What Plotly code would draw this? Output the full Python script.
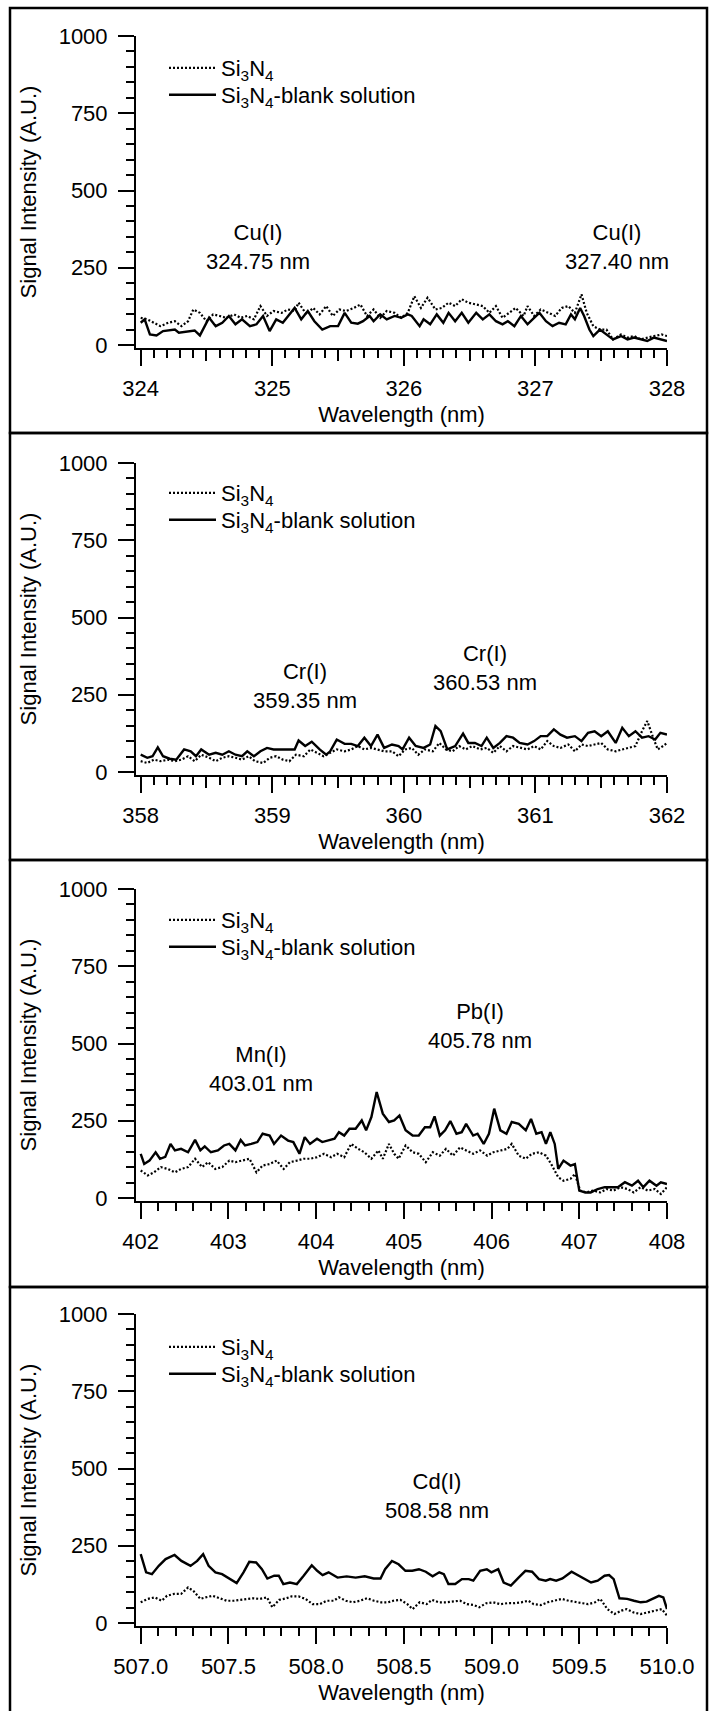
import plotly.graph_objects as go

W, H = 709, 1711

# ---------------- data ----------------
# Panel 1: Cu region
p1_dot_wl = [324.00, 324.05, 324.10, 324.15, 324.21, 324.26, 324.31, 324.36, 324.40, 324.45,
             324.50, 324.55, 324.60, 324.65, 324.71, 324.76, 324.81, 324.86, 324.91, 324.96,
             325.01, 325.07, 325.12, 325.17, 325.20, 325.26, 325.31, 325.36, 325.41, 325.46,
             325.51, 325.56, 325.62, 325.67, 325.72, 325.77, 325.82, 325.87, 325.93, 325.98,
             326.03, 326.08, 326.13, 326.18, 326.24, 326.29, 326.34, 326.39, 326.44, 326.49,
             326.55, 326.60, 326.65, 326.70, 326.75, 326.80, 326.85, 326.91, 326.94, 326.99,
             327.04, 327.10, 327.15, 327.20, 327.25, 327.30, 327.35, 327.39, 327.44, 327.49,
             327.54, 327.59, 327.65, 327.70, 327.75, 327.80, 327.85, 327.90, 327.96, 328.00]
p1_dot_int = [88, 83, 72, 61, 72, 77, 61, 77, 115, 104,
              77, 99, 94, 88, 99, 88, 94, 83, 126, 94,
              110, 104, 115, 110, 137, 99, 120, 99, 126, 94,
              115, 110, 120, 131, 94, 115, 88, 110, 104, 88,
              104, 158, 120, 153, 115, 120, 137, 126, 148, 137,
              131, 126, 104, 126, 88, 104, 120, 94, 126, 94,
              115, 104, 94, 120, 126, 104, 164, 104, 61, 50,
              50, 18, 34, 24, 29, 18, 24, 29, 34, 29]
p1_sol_wl = [324.00, 324.03, 324.07, 324.12, 324.17, 324.26, 324.29, 324.38, 324.41, 324.45,
             324.52, 324.57, 324.62, 324.67, 324.72, 324.77, 324.83, 324.88, 324.93, 324.98,
             325.03, 325.08, 325.13, 325.17, 325.22, 325.27, 325.32, 325.38, 325.44, 325.50,
             325.55, 325.60, 325.65, 325.69, 325.74, 325.77, 325.82, 325.87, 325.93, 325.98,
             326.03, 326.06, 326.12, 326.15, 326.20, 326.25, 326.30, 326.34, 326.39, 326.44,
             326.49, 326.55, 326.60, 326.65, 326.70, 326.75, 326.79, 326.84, 326.89, 326.94,
             326.99, 327.03, 327.08, 327.13, 327.18, 327.23, 327.27, 327.30, 327.34, 327.37,
             327.41, 327.44, 327.49, 327.54, 327.59, 327.65, 327.70, 327.75, 327.80, 327.85,
             327.90, 327.96, 328.00]
p1_sol_int = [72, 83, 34, 31, 45, 50, 40, 45, 47, 31,
              88, 61, 72, 94, 67, 83, 61, 67, 94, 45,
              83, 72, 99, 120, 83, 110, 77, 50, 61, 61,
              104, 72, 69, 77, 94, 77, 99, 83, 94, 88,
              99, 94, 61, 83, 67, 99, 72, 104, 77, 104,
              72, 104, 83, 99, 77, 67, 77, 61, 94, 67,
              88, 104, 77, 61, 72, 67, 99, 83, 120, 94,
              50, 29, 50, 34, 18, 29, 18, 24, 18, 13,
              24, 18, 13]

# Panel 2: Cr region
p2_dot_wl = [358.00, 358.05, 358.10, 358.15, 358.21, 358.26, 358.31, 358.36, 358.41, 358.46,
             358.52, 358.57, 358.62, 358.67, 358.72, 358.77, 358.82, 358.87, 358.93, 358.98,
             359.03, 359.08, 359.13, 359.18, 359.24, 359.29, 359.34, 359.39, 359.44, 359.49,
             359.55, 359.60, 359.65, 359.70, 359.75, 359.80, 359.85, 359.91, 359.96, 360.01,
             360.06, 360.11, 360.16, 360.22, 360.27, 360.32, 360.37, 360.42, 360.47, 360.52,
             360.58, 360.63, 360.68, 360.73, 360.78, 360.83, 360.89, 360.94, 360.99, 361.04,
             361.09, 361.14, 361.19, 361.25, 361.30, 361.35, 361.40, 361.45, 361.50, 361.55,
             361.61, 361.66, 361.71, 361.76, 361.81, 361.85, 361.90, 361.93, 361.97, 362.00]
p2_dot_int = [35, 29, 40, 35, 40, 35, 40, 51, 35, 56,
              46, 35, 46, 51, 46, 40, 51, 35, 29, 46,
              51, 40, 35, 56, 51, 73, 62, 51, 62, 73,
              67, 73, 84, 73, 78, 73, 67, 67, 51, 73,
              78, 56, 73, 67, 94, 73, 67, 84, 73, 84,
              73, 78, 62, 84, 67, 84, 78, 73, 84, 73,
              100, 84, 78, 89, 67, 89, 84, 89, 94, 73,
              67, 73, 78, 84, 132, 165, 105, 73, 84, 94]
p2_sol_wl = [358.00, 358.05, 358.09, 358.13, 358.17, 358.22, 358.27, 358.33, 358.38, 358.42,
             358.46, 358.52, 358.57, 358.62, 358.67, 358.72, 358.77, 358.81, 358.86, 358.91,
             358.96, 359.01, 359.06, 359.12, 359.17, 359.20, 359.25, 359.30, 359.36, 359.41,
             359.44, 359.49, 359.55, 359.60, 359.65, 359.70, 359.75, 359.80, 359.85, 359.91,
             359.96, 359.99, 360.04, 360.09, 360.15, 360.20, 360.24, 360.28, 360.33, 360.39,
             360.45, 360.49, 360.54, 360.59, 360.63, 360.68, 360.73, 360.78, 360.83, 360.88,
             360.94, 360.99, 361.04, 361.09, 361.14, 361.19, 361.24, 361.30, 361.35, 361.40,
             361.45, 361.50, 361.55, 361.61, 361.66, 361.71, 361.76, 361.81, 361.86, 361.91,
             361.95, 362.00]
p2_sol_int = [56, 46, 51, 80, 51, 43, 40, 73, 67, 51,
              73, 56, 62, 56, 67, 56, 51, 67, 51, 67,
              78, 73, 73, 73, 73, 102, 84, 98, 73, 56,
              67, 105, 91, 91, 84, 111, 84, 121, 78, 89,
              84, 73, 111, 84, 78, 89, 149, 132, 73, 84,
              124, 94, 94, 84, 111, 78, 94, 116, 111, 94,
              89, 100, 116, 116, 138, 121, 111, 116, 100, 127,
              132, 116, 132, 94, 143, 116, 132, 111, 116, 105,
              127, 121]

# Panel 3: Mn / Pb region
p3_dot_wl = [402.00, 402.08, 402.15, 402.23, 402.31, 402.39, 402.46, 402.54, 402.62, 402.70,
             402.77, 402.85, 402.93, 403.01, 403.08, 403.16, 403.24, 403.32, 403.39, 403.47,
             403.55, 403.63, 403.70, 403.78, 403.86, 403.93, 404.01, 404.09, 404.17, 404.24,
             404.32, 404.40, 404.48, 404.55, 404.63, 404.71, 404.76, 404.83, 404.89, 404.94,
             405.02, 405.10, 405.17, 405.25, 405.33, 405.41, 405.48, 405.56, 405.64, 405.71,
             405.79, 405.87, 405.95, 406.02, 406.10, 406.18, 406.23, 406.31, 406.39, 406.46,
             406.54, 406.62, 406.68, 406.76, 406.82, 406.90, 406.95, 407.01, 407.08, 407.16,
             407.24, 407.31, 407.39, 407.47, 407.55, 407.62, 407.70, 407.78, 407.86, 407.93,
             408.00]
p3_dot_int = [89, 73, 83, 100, 94, 83, 94, 100, 127, 100,
              116, 94, 100, 121, 116, 121, 127, 83, 105, 110,
              121, 94, 116, 121, 127, 127, 132, 143, 132, 143,
              132, 175, 159, 148, 127, 154, 127, 175, 143, 127,
              170, 148, 143, 116, 148, 137, 159, 137, 164, 154,
              143, 154, 137, 148, 154, 159, 175, 137, 127, 143,
              148, 137, 110, 67, 56, 62, 78, 24, 18, 24,
              18, 29, 24, 35, 29, 18, 35, 24, 29, 13,
              35]
p3_sol_wl = [402.00, 402.04, 402.10, 402.17, 402.22, 402.28, 402.34, 402.39, 402.46, 402.54,
             402.62, 402.68, 402.73, 402.80, 402.88, 402.95, 403.01, 403.08, 403.14, 403.19,
             403.26, 403.33, 403.39, 403.47, 403.52, 403.60, 403.68, 403.74, 403.81, 403.87,
             403.93, 404.01, 404.07, 404.14, 404.21, 404.26, 404.32, 404.38, 404.45, 404.52,
             404.57, 404.63, 404.69, 404.76, 404.83, 404.89, 404.95, 405.02, 405.10, 405.17,
             405.24, 405.30, 405.35, 405.41, 405.47, 405.53, 405.60, 405.66, 405.71, 405.79,
             405.84, 405.91, 405.97, 406.03, 406.10, 406.17, 406.23, 406.31, 406.39, 406.45,
             406.51, 406.57, 406.62, 406.67, 406.72, 406.76, 406.82, 406.90, 406.95, 407.00,
             407.07, 407.13, 407.21, 407.29, 407.37, 407.44, 407.52, 407.60, 407.67, 407.73,
             407.80, 407.88, 407.93, 408.00]
p3_sol_int = [143, 110, 121, 148, 127, 133, 175, 154, 159, 148,
              188, 154, 167, 148, 154, 170, 175, 154, 188, 170,
              175, 181, 208, 202, 175, 202, 186, 181, 143, 197,
              175, 192, 181, 186, 192, 213, 202, 224, 224, 251,
              219, 262, 343, 273, 246, 251, 267, 219, 202, 202,
              229, 229, 264, 202, 219, 249, 208, 213, 240, 202,
              208, 175, 208, 289, 219, 208, 246, 240, 219, 256,
              208, 213, 175, 213, 175, 94, 121, 105, 110, 24,
              18, 18, 29, 35, 35, 35, 51, 40, 56, 35,
              56, 40, 51, 45]

# Panel 4: Cd region
p4_dot_wl = [507.00, 507.04, 507.08, 507.12, 507.15, 507.19, 507.23, 507.27, 507.30, 507.34,
             507.37, 507.41, 507.45, 507.49, 507.53, 507.57, 507.61, 507.64, 507.68, 507.72,
             507.75, 507.79, 507.83, 507.86, 507.90, 507.94, 507.98, 508.02, 508.06, 508.10,
             508.13, 508.17, 508.21, 508.25, 508.29, 508.33, 508.37, 508.41, 508.44, 508.48,
             508.52, 508.55, 508.59, 508.63, 508.66, 508.70, 508.74, 508.78, 508.82, 508.86,
             508.90, 508.93, 508.97, 509.01, 509.05, 509.09, 509.13, 509.17, 509.21, 509.24,
             509.28, 509.32, 509.36, 509.40, 509.44, 509.48, 509.52, 509.55, 509.59, 509.62,
             509.66, 509.70, 509.74, 509.77, 509.81, 509.85, 509.89, 509.93, 509.97, 510.00]
p4_dot_int = [67, 78, 83, 72, 88, 94, 94, 115, 104, 78,
              83, 88, 80, 72, 72, 75, 80, 80, 78, 83,
              51, 75, 80, 86, 86, 78, 61, 61, 72, 72,
              83, 72, 67, 72, 80, 72, 67, 67, 72, 75,
              61, 45, 67, 61, 75, 67, 67, 69, 72, 61,
              58, 51, 64, 67, 61, 64, 64, 67, 72, 61,
              58, 67, 72, 78, 72, 69, 64, 61, 67, 78,
              45, 29, 40, 45, 34, 29, 34, 40, 45, 24]
p4_sol_wl = [507.000, 507.031, 507.064, 507.103, 507.142, 507.193, 507.232, 507.284, 507.322, 507.356,
             507.387, 507.426, 507.464, 507.503, 507.547, 507.586, 507.619, 507.658, 507.691, 507.722,
             507.761, 507.787, 507.813, 507.851, 507.890, 507.929, 507.975, 508.006, 508.037, 508.071,
             508.122, 508.174, 508.225, 508.277, 508.328, 508.367, 508.393, 508.432, 508.470, 508.509,
             508.548, 508.586, 508.625, 508.664, 508.702, 508.728, 508.754, 508.793, 508.831, 508.870,
             508.896, 508.935, 508.973, 508.999, 509.038, 509.069, 509.110, 509.154, 509.193, 509.231,
             509.270, 509.309, 509.334, 509.368, 509.404, 509.456, 509.497, 509.528, 509.567, 509.605,
             509.644, 509.670, 509.696, 509.729, 509.773, 509.812, 509.850, 509.884, 509.920, 509.954,
             509.979, 510.000]
p4_sol_int = [223, 164, 158, 185, 207, 220, 201, 185, 201, 223,
              185, 164, 158, 144, 129, 164, 198, 196, 174, 144,
              153, 153, 126, 131, 126, 153, 187, 169, 155, 164,
              147, 151, 147, 151, 144, 144, 174, 201, 190, 169,
              169, 174, 166, 151, 164, 158, 126, 126, 142, 142,
              137, 169, 174, 164, 174, 131, 121, 147, 169, 166,
              142, 137, 142, 137, 144, 166, 153, 142, 131, 137,
              153, 155, 142, 80, 78, 72, 67, 69, 80, 88,
              83, 45]

# axis ranges / ticks
x_ranges = [(324, 328), (358, 362), (402, 408), (507, 510)]
x_major = [1, 1, 1, 0.5]
x_minor = [0.1, 0.1, 0.2, 0.1]
x_formats = ["d", "d", "d", ".1f"]
half_ticks = [[324.5, 325.5, 326.5, 327.5], [358.5, 359.5, 360.5, 361.5], None, None]

annotations_text = [
    [("Cu(I)<br>324.75 nm", 324.89, 318), ("Cu(I)<br>327.40 nm", 327.62, 318)],
    [("Cr(I)<br>359.35 nm", 359.25, 279), ("Cr(I)<br>360.53 nm", 360.62, 338)],
    [("Mn(I)<br>403.01 nm", 403.37, 419), ("Pb(I)<br>405.78 nm", 405.87, 558)],
    [("Cd(I)<br>508.58 nm", 508.69, 410)],
]

series = [
    (p1_dot_wl, p1_dot_int, p1_sol_wl, p1_sol_int),
    (p2_dot_wl, p2_dot_int, p2_sol_wl, p2_sol_int),
    (p3_dot_wl, p3_dot_int, p3_sol_wl, p3_sol_int),
    (p4_dot_wl, p4_dot_int, p4_sol_wl, p4_sol_int),
]
for s in series:
    assert len(s[0]) == len(s[1]) and len(s[2]) == len(s[3])

NAME_DOT = "Si<sub>3</sub>N<sub>4</sub>"
NAME_SOL = "Si<sub>3</sub>N<sub>4</sub>-blank solution"

# ---------------- layout geometry (pixels) ----------------
FONT = "Liberation Sans, Arial, sans-serif"
FS = 22
frame_tops = [8, 433, 860, 1287]
y1000_px = [36, 463, 889, 1314]
PX_PER_UNIT = 0.309            # pixels per intensity unit
Y_LOW = -10
X_LEFT, X_FIRST, X_RIGHT = 136, 140.7, 667
LEG_X = 164
LEG_ROW_OFFSETS = [39, 66]     # legend box tops below each frame top

def px(y):
    return 1 - y / H

fig = go.Figure()
layout = dict(
    width=W, height=H, margin=dict(l=0, r=0, t=0, b=0, pad=0, autoexpand=False),
    paper_bgcolor="white", plot_bgcolor="white",
    font=dict(family=FONT, size=FS, color="black"),
    showlegend=True,
)
shapes = []
annots = []

def legend_box(top_px):
    return dict(
        x=LEG_X / W, y=px(top_px), xanchor="left", yanchor="top",
        bgcolor="rgba(0,0,0,0)", borderwidth=0, font=dict(family=FONT, size=FS),
        tracegroupgap=0, itemwidth=47, traceorder="normal",
    )

for i in range(4):
    n = i + 1
    xa = "xaxis" if n == 1 else f"xaxis{n}"
    ya = "yaxis" if n == 1 else f"yaxis{n}"
    xr = "x" if n == 1 else f"x{n}"
    yr = "y" if n == 1 else f"y{n}"
    lg_a = "legend" if n == 1 else f"legend{n}"
    lg_b = f"legend{n + 4}"
    lo, hi = x_ranges[i]
    ppn = (X_RIGHT - X_FIRST) / (hi - lo)
    x_lo = lo - (X_FIRST - X_LEFT) / ppn
    top = y1000_px[i]
    bottom = top + (1000 - Y_LOW) * PX_PER_UNIT

    dwl, dint, swl, sint = series[i]
    fig.add_trace(go.Scatter(x=dwl, y=dint, mode="lines", name=NAME_DOT,
                             line=dict(color="black", width=2.2, dash="2px,2px"),
                             xaxis=xr, yaxis=yr, legend=lg_a, showlegend=True))
    fig.add_trace(go.Scatter(x=swl, y=sint, mode="lines", name=NAME_SOL,
                             line=dict(color="black", width=2.4),
                             xaxis=xr, yaxis=yr, legend=lg_b, showlegend=True))

    layout[xa] = dict(
        domain=[X_LEFT / W, X_RIGHT / W], range=[x_lo, hi], anchor=yr, automargin=False,
        showline=True, linecolor="black", linewidth=2, showgrid=False, zeroline=False,
        ticks="outside", ticklen=16, tickwidth=2, tickcolor="black",
        tick0=lo, dtick=x_major[i], tickformat=x_formats[i],
        tickfont=dict(family=FONT, size=FS), ticklabelstandoff=4,
        minor=dict(ticks="outside", ticklen=8, tickwidth=2, tickcolor="black",
                   dtick=x_minor[i], tick0=lo, showgrid=False),
        title=dict(text="Wavelength (nm)", font=dict(family=FONT, size=FS), standoff=6),
        fixedrange=True,
    )
    layout[ya] = dict(
        domain=[px(bottom), px(top)], range=[Y_LOW, 1000], anchor=xr, automargin=False,
        showline=True, linecolor="black", linewidth=2, showgrid=False, zeroline=False,
        ticks="outside", ticklen=16, tickwidth=2, tickcolor="black",
        tick0=0, dtick=250, tickfont=dict(family=FONT, size=FS), ticklabelstandoff=6,
        minor=dict(ticks="outside", ticklen=8, tickwidth=2, tickcolor="black",
                   dtick=50, tick0=0, showgrid=False),
        title=dict(text="Signal Intensity (A.U.)", font=dict(family=FONT, size=FS), standoff=16),
        fixedrange=True,
    )
    if half_ticks[i]:
        k = 8 + n
        layout[f"xaxis{k}"] = dict(
            domain=[X_LEFT / W, X_RIGHT / W], range=[x_lo, hi], anchor=yr, overlaying=xr,
            automargin=False,
            showline=False, showgrid=False, zeroline=False, showticklabels=False,
            ticks="outside", ticklen=12, tickwidth=2, tickcolor="black",
            tickmode="array", tickvals=half_ticks[i], fixedrange=True,
        )
        fig.add_trace(go.Scatter(x=[lo], y=[None], xaxis=f"x{k}", yaxis=yr,
                                 showlegend=False, hoverinfo="skip", mode="lines"))

    layout[lg_a] = legend_box(frame_tops[i] + LEG_ROW_OFFSETS[0])
    layout[lg_b] = legend_box(frame_tops[i] + LEG_ROW_OFFSETS[1])

    for text, ax_x, ax_y in annotations_text[i]:
        annots.append(dict(text=text, x=ax_x, y=ax_y, xref=xr, yref=yr, showarrow=False,
                           font=dict(family=FONT, size=FS), align="center"))

    ftop = frame_tops[i]
    fbot = frame_tops[i + 1] if i < 3 else H + 5
    shapes.append(dict(type="rect", xref="paper", yref="paper",
                       x0=10 / W, x1=707 / W, y0=px(fbot), y1=px(ftop),
                       line=dict(color="black", width=2.5), fillcolor="rgba(0,0,0,0)"))

layout["shapes"] = shapes
layout["annotations"] = annots
fig.update_layout(**layout)
fig.write_html("out.html")
